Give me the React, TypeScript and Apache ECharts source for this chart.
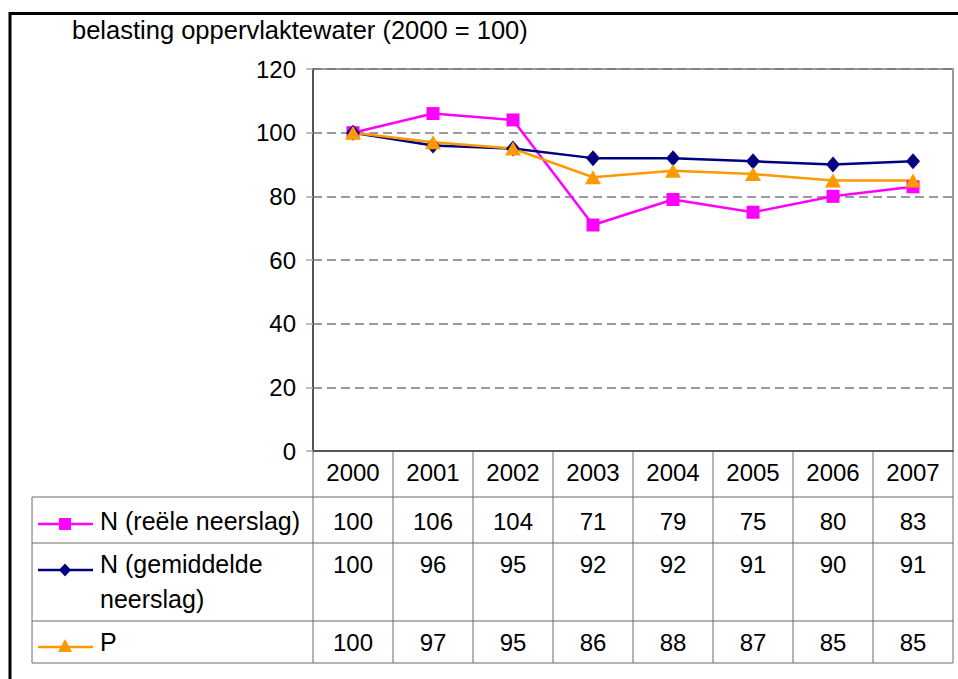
import React, { useEffect, useRef } from "react";
import * as echarts from "echarts";

const title = "belasting oppervlaktewater (2000 = 100)";
const years = ["2000", "2001", "2002", "2003", "2004", "2005", "2006", "2007"];
const nReeel = [100, 106, 104, 71, 79, 75, 80, 83];
const nGemiddeld = [100, 96, 95, 92, 92, 91, 90, 91];
const pValues = [100, 97, 95, 86, 88, 87, 85, 85];
const seriesNames = ["N (reële neerslag)", "N (gemiddelde\nneerslag)", "P"];
const yTicks = [0, 20, 40, 60, 80, 100, 120];

const PINK = "#FF00FF";
const NAVY = "#000080";
const ORANGE = "#FF9900";
const FONT = "'Liberation Sans', Arial, sans-serif";

export default function App() {
  const ref = useRef<HTMLDivElement>(null);
  useEffect(() => {
    if (!ref.current) return;
    const chart = echarts.init(ref.current, undefined, { renderer: "svg" });
    const GL = 313, GT = 69, GW = 640, GH = 382;
    const GB = GT + GH;
    const colW = GW / years.length;
    const tableLeft = 32;
    const rowLines = [497, 543, 621, 663];
    const lineColor = "#6a6a6a";
    const fs = 24;
    const tfs = 25.5;
    const graphics: any[] = [];
    graphics.push({ type: "rect", shape: { x: 10, y: 13.5, width: 2000, height: 2000 }, style: { fill: "none", stroke: "#000", lineWidth: 3 }, silent: true });
    graphics.push({ type: "text", x: 72, y: 30, style: { text: title, fill: "#000", font: `${tfs}px ${FONT}`, textVerticalAlign: "middle" } });
    for (let i = 0; i <= years.length; i++) {
      const x = GL + i * colW;
      graphics.push({ type: "line", shape: { x1: x, y1: GB, x2: x, y2: rowLines[3] }, style: { stroke: lineColor, lineWidth: 1 } });
    }
    graphics.push({ type: "line", shape: { x1: tableLeft, y1: rowLines[0], x2: tableLeft, y2: rowLines[3] }, style: { stroke: lineColor, lineWidth: 1 } });
    rowLines.forEach((y) => {
      graphics.push({ type: "line", shape: { x1: tableLeft, y1: y, x2: GL + GW, y2: y }, style: { stroke: lineColor, lineWidth: 1 } });
    });
    const rowData = [nReeel, nGemiddeld, pValues];
    const rowTextY = [521, 564, 642];
    const markerY = [524, 570, 647];
    const colors = [PINK, NAVY, ORANGE];
    rowData.forEach((arr, r) => {
      arr.forEach((v, i) => {
        graphics.push({ type: "text", x: GL + colW * (i + 0.5), y: rowTextY[r], style: { text: String(v), fill: "#000", font: `${fs}px ${FONT}`, textAlign: "center", textVerticalAlign: "middle" } });
      });
      const lines = seriesNames[r].split("\n");
      lines.forEach((t, k) => {
        graphics.push({ type: "text", x: 100, y: rowTextY[r] + k * 35, style: { text: t, fill: "#000", font: `25px ${FONT}`, textVerticalAlign: "middle" } });
      });
      const my = markerY[r];
      graphics.push({ type: "line", shape: { x1: 38, y1: my, x2: 93, y2: my }, style: { stroke: colors[r], lineWidth: 2.5 } });
      if (r === 0) graphics.push({ type: "rect", shape: { x: 59, y: my - 6, width: 12, height: 12 }, style: { fill: PINK } });
      if (r === 1) graphics.push({ type: "polygon", shape: { points: [[65, my - 6.5], [71, my], [65, my + 6.5], [59, my]] }, style: { fill: NAVY } });
      if (r === 2) graphics.push({ type: "polygon", shape: { points: [[65, my - 8], [72, my + 5], [58, my + 5]] }, style: { fill: ORANGE } });
    });

    chart.setOption({
      animation: false,
      backgroundColor: "#fff",
      grid: { left: GL, top: GT, width: GW, height: GH, show: true, borderColor: "#9a9a9a", borderWidth: 2, backgroundColor: "transparent" },
      xAxis: {
        type: "category",
        data: years,
        boundaryGap: true,
        axisLine: { show: true, lineStyle: { color: "#555", width: 2 } },
        axisTick: { show: false },
        axisLabel: { color: "#000", fontSize: fs, fontFamily: FONT, margin: 9, interval: 0 },
        splitLine: { show: false },
      },
      yAxis: {
        type: "value",
        min: yTicks[0],
        max: yTicks[yTicks.length - 1],
        interval: 20,
        axisLine: { show: true, lineStyle: { color: "#555", width: 2 } },
        axisTick: { show: true, length: 7, lineStyle: { color: "#aaa", width: 1.5 } },
        axisLabel: { color: "#000", fontSize: fs, fontFamily: FONT, margin: 17 },
        splitLine: { show: true, lineStyle: { color: "#7a7a7a", type: [9, 5], width: 1.5 } },
      },
      series: [
        { name: seriesNames[0], type: "line", data: nReeel, symbol: "rect", symbolSize: 13, lineStyle: { color: PINK, width: 2.5 }, itemStyle: { color: PINK } },
        { name: seriesNames[1], type: "line", data: nGemiddeld, symbol: "diamond", symbolSize: [14, 16], lineStyle: { color: NAVY, width: 2.5 }, itemStyle: { color: NAVY } },
        { name: seriesNames[2], type: "line", data: pValues, symbol: "triangle", symbolSize: [16, 14], lineStyle: { color: ORANGE, width: 2.5 }, itemStyle: { color: ORANGE } },
      ],
      graphic: graphics,
    });
    return () => chart.dispose();
  }, []);
  return <div ref={ref} style={{ position: "fixed", left: 0, top: 0, width: 958, height: 679, background: "#fff" }} />;
}
